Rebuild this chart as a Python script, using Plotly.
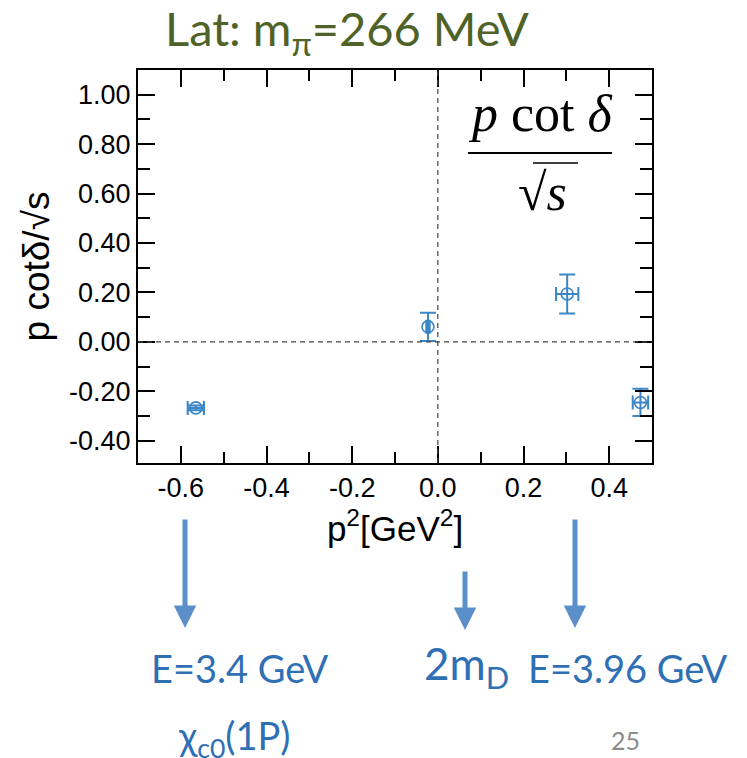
import plotly.graph_objects as go

# data
p2 = [-0.565, -0.023, 0.302, 0.473]
pcot = [-0.267, 0.061, 0.194, -0.245]
err_y = [0.010, 0.057, 0.079, 0.055]
err_x = [0.019, 0.004, 0.026, 0.018]

xticks = [-0.6, -0.4, -0.2, 0.0, 0.2, 0.4]
yticks = [-0.4, -0.2, 0.0, 0.2, 0.4, 0.6, 0.8, 1.0]
xticktext = ["%.1f" % v for v in xticks]
yticktext = ["%.2f" % v for v in yticks]

blue = "#3a86c6"
arrow_blue = "#5b8fca"
text_blue = "#2f6fb4"

W, H = 747, 758
L, R, T, B = 138, 95, 70, 295
pw, ph = W - L - R, H - T - B


def px(x):
    return (x - L) / pw


def py(y):
    return (H - B - y) / ph


fig = go.Figure()
fig.add_trace(go.Scatter(
    x=p2, y=pcot, mode="markers",
    marker=dict(symbol="circle-open", size=12, color=blue, line=dict(width=1.6, color=blue)),
    error_y=dict(type="data", array=err_y, color=blue, thickness=2, width=8),
    error_x=dict(type="data", array=err_x, color=blue, thickness=2, width=7),
    showlegend=False,
))

fig.add_hline(y=0, line=dict(color="#444444", width=1.2, dash="5px,4px"))
fig.add_vline(x=0, line=dict(color="#444444", width=1.2, dash="5px,4px"))

axis_common = dict(
    showline=True, linecolor="black", linewidth=2, mirror="allticks",
    ticks="inside", tickcolor="black", tickwidth=1.5, ticklen=17,
    showgrid=False, zeroline=False,
    tickfont=dict(family="Liberation Sans, Arial, sans-serif", size=27, color="black"),
)

fig.update_xaxes(
    range=[-0.7, 0.5], tickvals=xticks, ticktext=xticktext,
    minor=dict(ticks="inside", ticklen=11, dtick=0.1, tick0=0, tickcolor="black", tickwidth=1.5),
    title=dict(text="p<sup>2</sup>[GeV<sup>2</sup>]", font=dict(family="Liberation Sans, Arial, sans-serif", size=35, color="black"), standoff=14),
    **axis_common,
)
fig.update_yaxes(
    range=[-0.49, 1.10], tickvals=yticks, ticktext=yticktext,
    minor=dict(ticks="inside", ticklen=12, dtick=0.1, tick0=0, tickcolor="black", tickwidth=1.5),
    title=dict(text="p cotδ/√s", font=dict(family="Liberation Sans, Arial, sans-serif", size=37, color="black"), standoff=8),
    **axis_common,
)

ann = []
# title
ann.append(dict(text="Lat: m<sub>π</sub>=266 MeV", xref="paper", yref="paper", x=px(347), y=py(32),
                xanchor="center", yanchor="middle", showarrow=False,
                font=dict(family="Lato, Open Sans, sans-serif", size=47, color="#4f6228")))
# formula
ann.append(dict(text="<i>p</i> cot <i>δ</i>", xref="paper", yref="paper", x=px(540), y=py(113),
                xanchor="center", yanchor="middle", showarrow=False,
                font=dict(family="Liberation Serif, Times New Roman, serif", size=52, color="black")))
ann.append(dict(text="√<i>s</i>", xref="paper", yref="paper", x=px(542), y=py(192),
                xanchor="center", yanchor="middle", showarrow=False,
                font=dict(family="Liberation Serif, Times New Roman, serif", size=52, color="black")))

# arrows below the axis (x pixel, tip y pixel, length)
arrow_pos = [(185, 628, 110), (465, 630, 60), (575, 628, 110)]
for xa, ya, ln in arrow_pos:
    ann.append(dict(text="", x=px(xa), xref="paper", y=py(ya), yref="paper", ax=0, ay=-ln,
                    showarrow=True, arrowhead=2, arrowsize=0.9, arrowwidth=5, arrowcolor=arrow_blue))

# labels below
lab = lambda t, x, y, s, c=text_blue: dict(text=t, xref="paper", yref="paper", x=px(x), y=py(y),
                                           xanchor="center", yanchor="middle", showarrow=False,
                                           font=dict(family="Lato, sans-serif", size=s, color=c))
ann.append(lab("E=3.4 GeV", 240, 668, 38))
ann.append(lab("2m<sub>D</sub>", 466, 666, 44))
ann.append(lab("E=3.96 GeV", 628, 668, 38))
ann.append(lab("χ<sub>c0</sub>(1P)", 234, 738, 38))
ann.append(lab("25", 625, 740, 25, "#8c8c8c"))

fig.update_layout(
    width=W, height=H,
    margin=dict(l=L, r=R, t=T, b=B),
    paper_bgcolor="white", plot_bgcolor="white",
    annotations=ann,
)
fig.add_shape(type="line", xref="paper", yref="paper", x0=px(468), x1=px(612), y0=py(153), y1=py(153),
              line=dict(color="black", width=2, dash="solid"))
fig.add_shape(type="line", xref="paper", yref="paper", x0=px(533), x1=px(578), y0=py(163), y1=py(163),
              line=dict(color="black", width=1.5, dash="solid"))

fig.write_html("out.html")
